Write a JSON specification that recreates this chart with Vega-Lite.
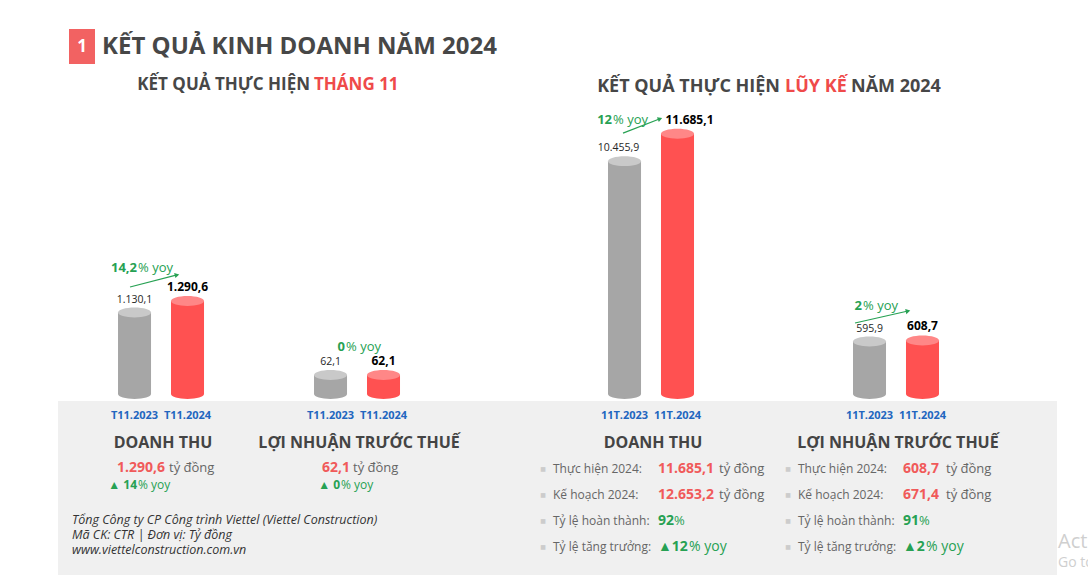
{
"$schema": "https://vega.github.io/schema/vega-lite/v6.json",
"background": "white",
"padding": {"left": 58, "top": 0, "right": 31, "bottom": 11},
"config": {"view": {"stroke": null}, "axis": {"disable": true}, "legend": {"disable": true}, "font": "Open Sans"},
"datasets": {
"header": [{"num": "1", "title": "KẾT QUẢ KINH DOANH NĂM 2024", "leftA": "KẾT QUẢ THỰC HIỆN", "leftB": "THÁNG 11", "rightA": "KẾT QUẢ THỰC HIỆN", "rightB": "LŨY KẾ", "rightC": "NĂM 2024"}],
"bars": [
{"group": "G1", "year": "2023", "label": "T11.2023", "value": 1130.1, "text": "1.130,1"},
{"group": "G1", "year": "2024", "label": "T11.2024", "value": 1290.6, "text": "1.290,6"},
{"group": "G2", "year": "2023", "label": "T11.2023", "value": 62.1, "text": "62,1"},
{"group": "G2", "year": "2024", "label": "T11.2024", "value": 62.1, "text": "62,1"},
{"group": "G3", "year": "2023", "label": "11T.2023", "value": 10455.9, "text": "10.455,9"},
{"group": "G3", "year": "2024", "label": "11T.2024", "value": 11685.1, "text": "11.685,1"},
{"group": "G4", "year": "2023", "label": "11T.2023", "value": 595.9, "text": "595,9"},
{"group": "G4", "year": "2024", "label": "11T.2024", "value": 608.7, "text": "608,7"}
],
"growth": [
{"group": "G1", "from": 1130.1, "to": 1290.6, "num": "14,2", "suffix": "% yoy"},
{"group": "G2", "from": 62.1, "to": 62.1, "num": "0", "suffix": "% yoy"},
{"group": "G3", "from": 10455.9, "to": 11685.1, "num": "12", "suffix": "% yoy"},
{"group": "G4", "from": 595.9, "to": 608.7, "num": "2", "suffix": "% yoy"}
],
"sections": [
{"group": "G1", "title": "DOANH THU"},
{"group": "G2", "title": "LỢI NHUẬN TRƯỚC THUẾ"},
{"group": "G3", "title": "DOANH THU"},
{"group": "G4", "title": "LỢI NHUẬN TRƯỚC THUẾ"}
],
"monthly": [
{"group": "G1", "value": "1.290,6", "unit": "tỷ đồng", "yoy": "▲ 14", "yoySuffix": "% yoy"},
{"group": "G2", "value": "62,1", "unit": "tỷ đồng", "yoy": "▲ 0", "yoySuffix": "% yoy"}
],
"cumulative": [
{"group": "G3", "item": "r1", "label": "Thực hiện 2024:", "value": "11.685,1", "suffix": "tỷ đồng", "kind": "amount"},
{"group": "G3", "item": "r2", "label": "Kế hoạch 2024:", "value": "12.653,2", "suffix": "tỷ đồng", "kind": "amount"},
{"group": "G3", "item": "r3", "label": "Tỷ lệ hoàn thành:", "value": "92", "suffix": "%", "kind": "rate"},
{"group": "G3", "item": "r4", "label": "Tỷ lệ tăng trưởng:", "value": "▲12", "suffix": "% yoy", "kind": "growth"},
{"group": "G4", "item": "r1", "label": "Thực hiện 2024:", "value": "608,7", "suffix": "tỷ đồng", "kind": "amount"},
{"group": "G4", "item": "r2", "label": "Kế hoạch 2024:", "value": "671,4", "suffix": "tỷ đồng", "kind": "amount"},
{"group": "G4", "item": "r3", "label": "Tỷ lệ hoàn thành:", "value": "91", "suffix": "%", "kind": "rate"},
{"group": "G4", "item": "r4", "label": "Tỷ lệ tăng trưởng:", "value": "▲2", "suffix": "% yoy", "kind": "growth"}
],
"notes": [{"footer": "Tổng Công ty CP Công trình Viettel (Viettel Construction)\nMã CK: CTR  |  Đơn vị: Tỷ đồng\nwww.viettelconstruction.com.vn", "wm1": "Activate Windows", "wm2": "Go to Settings to activate Windows."}]
},
"bounds": "flush",
"spacing": 0,
"vconcat": [
{"width": 999, "height": 100, "data": {"name": "header"}, "layer": [
{"mark": {"type": "point", "shape": "M-0.743,-1L0.743,-1L0.743,1L-0.743,1Z", "size": 1225, "filled": true, "opacity": 1, "strokeWidth": 0, "color": "#f26262", "xOffset": -79},
 "encoding": {"x": {"datum": "G1", "type": "nominal", "scale": {"type": "band", "domain": ["a1","G1","s1","s2","s3","G2","s4","s5","s6","s7","s8","G3","s9","s10","s11","s12","G4","z1","z2"], "paddingInner": 0, "paddingOuter": 0.694, "align": 0.434}}, "y": {"datum": "title", "type": "nominal", "scale": {"type": "point", "domain": ["title", "subtitle"], "padding": 0.799, "align": 0.756}}}},
{"mark": {"type": "text", "fontSize": 17, "fontWeight": "bold", "color": "#ffffff", "dx": -79, "baseline": "middle"},
 "encoding": {"x": {"datum": "G1", "type": "nominal", "scale": {"type": "band", "domain": ["a1","G1","s1","s2","s3","G2","s4","s5","s6","s7","s8","G3","s9","s10","s11","s12","G4","z1","z2"], "paddingInner": 0, "paddingOuter": 0.694, "align": 0.434}}, "y": {"datum": "title", "type": "nominal", "scale": {"type": "point", "domain": ["title", "subtitle"], "padding": 0.799, "align": 0.756}}, "text": {"field": "num", "type": "nominal"}}},
{"mark": {"type": "text", "fontSize": 24, "fontWeight": "bold", "color": "#474747", "align": "left", "dx": -59, "baseline": "middle"},
 "encoding": {"x": {"datum": "G1", "type": "nominal", "scale": {"type": "band", "domain": ["a1","G1","s1","s2","s3","G2","s4","s5","s6","s7","s8","G3","s9","s10","s11","s12","G4","z1","z2"], "paddingInner": 0, "paddingOuter": 0.694, "align": 0.434}}, "y": {"datum": "title", "type": "nominal", "scale": {"type": "point", "domain": ["title", "subtitle"], "padding": 0.799, "align": 0.756}}, "text": {"field": "title", "type": "nominal"}}},
{"mark": {"type": "text", "fontSize": 17, "fontWeight": "bold", "color": "#474747", "align": "right", "dx": -47, "baseline": "middle"},
 "encoding": {"x": {"datum": "G2", "type": "nominal", "scale": {"type": "band", "domain": ["a1","G1","s1","s2","s3","G2","s4","s5","s6","s7","s8","G3","s9","s10","s11","s12","G4","z1","z2"], "paddingInner": 0, "paddingOuter": 0.694, "align": 0.434}}, "y": {"datum": "subtitle", "type": "nominal", "scale": {"type": "point", "domain": ["title", "subtitle"], "padding": 0.799, "align": 0.756}}, "text": {"field": "leftA", "type": "nominal"}}},
{"mark": {"type": "text", "fontSize": 17, "fontWeight": "bold", "color": "#ef4a4a", "align": "left", "dx": -43, "baseline": "middle"},
 "encoding": {"x": {"datum": "G2", "type": "nominal", "scale": {"type": "band", "domain": ["a1","G1","s1","s2","s3","G2","s4","s5","s6","s7","s8","G3","s9","s10","s11","s12","G4","z1","z2"], "paddingInner": 0, "paddingOuter": 0.694, "align": 0.434}}, "y": {"datum": "subtitle", "type": "nominal", "scale": {"type": "point", "domain": ["title", "subtitle"], "padding": 0.799, "align": 0.756}}, "text": {"field": "leftB", "type": "nominal"}}},
{"mark": {"type": "text", "fontSize": 18, "fontWeight": "bold", "color": "#474747", "align": "right", "dx": -18, "dy": 2, "baseline": "middle"},
 "encoding": {"x": {"datum": "s11", "type": "nominal", "scale": {"type": "band", "domain": ["a1","G1","s1","s2","s3","G2","s4","s5","s6","s7","s8","G3","s9","s10","s11","s12","G4","z1","z2"], "paddingInner": 0, "paddingOuter": 0.694, "align": 0.434}}, "y": {"datum": "subtitle", "type": "nominal", "scale": {"type": "point", "domain": ["title", "subtitle"], "padding": 0.799, "align": 0.756}}, "text": {"field": "rightA", "type": "nominal"}}},
{"mark": {"type": "text", "fontSize": 18, "fontWeight": "bold", "color": "#ef4a4a", "align": "left", "dx": -13, "dy": 2, "baseline": "middle"},
 "encoding": {"x": {"datum": "s11", "type": "nominal", "scale": {"type": "band", "domain": ["a1","G1","s1","s2","s3","G2","s4","s5","s6","s7","s8","G3","s9","s10","s11","s12","G4","z1","z2"], "paddingInner": 0, "paddingOuter": 0.694, "align": 0.434}}, "y": {"datum": "subtitle", "type": "nominal", "scale": {"type": "point", "domain": ["title", "subtitle"], "padding": 0.799, "align": 0.756}}, "text": {"field": "rightB", "type": "nominal"}}},
{"mark": {"type": "text", "fontSize": 18, "fontWeight": "bold", "color": "#474747", "align": "left", "dx": -45, "dy": 2, "baseline": "middle"},
 "encoding": {"x": {"datum": "G4", "type": "nominal", "scale": {"type": "band", "domain": ["a1","G1","s1","s2","s3","G2","s4","s5","s6","s7","s8","G3","s9","s10","s11","s12","G4","z1","z2"], "paddingInner": 0, "paddingOuter": 0.694, "align": 0.434}}, "y": {"datum": "subtitle", "type": "nominal", "scale": {"type": "point", "domain": ["title", "subtitle"], "padding": 0.799, "align": 0.756}}, "text": {"field": "rightC", "type": "nominal"}}}
]},
{"width": 999, "height": 301, "resolve": {"scale": {"y": "independent"}}, "layer": [
{"data": {"name": "bars"}, "mark": {"type": "point", "shape": "M-1,0C-1,-0.166,-0.552,-0.3,0,-0.3C0.552,-0.3,1,-0.166,1,0C1,0.166,0.552,0.3,0,0.3C-0.552,0.3,-1,0.166,-1,0Z", "size": 1089, "filled": true, "opacity": 1, "strokeWidth": 0},
 "encoding": {"x": {"field": "group", "type": "nominal", "scale": {"type": "band", "domain": ["a1","G1","s1","s2","s3","G2","s4","s5","s6","s7","s8","G3","s9","s10","s11","s12","G4","z1","z2"], "paddingInner": 0, "paddingOuter": 0.694, "align": 0.434}}, "xOffset": {"field": "year", "type": "nominal", "scale": {"type": "band", "domain": ["2023", "2024"], "range": [-18.5, 67.5], "paddingInner": 0.377, "paddingOuter": 0}}, "y": {"datum": 0, "type": "quantitative", "scale": {"domain": [-0.0238, 1]}}, "color": {"field": "year", "type": "nominal", "scale": {"domain": ["2023", "2024"], "range": ["#a6a6a6", "#ff5151"]}}}},
{"layer": [
{"data": {"name": "bars"}, "transform": [{"filter": "datum.group === 'G1'"}], "mark": {"type": "bar"},
 "encoding": {"x": {"field": "group", "type": "nominal", "scale": {"type": "band", "domain": ["a1","G1","s1","s2","s3","G2","s4","s5","s6","s7","s8","G3","s9","s10","s11","s12","G4","z1","z2"], "paddingInner": 0, "paddingOuter": 0.694, "align": 0.434}}, "xOffset": {"field": "year", "type": "nominal", "scale": {"type": "band", "domain": ["2023", "2024"], "range": [-18.5, 67.5], "paddingInner": 0.377, "paddingOuter": 0}}, "y": {"field": "value", "type": "quantitative", "scale": {"domain": [-97.1, 4078]}}, "color": {"field": "year", "type": "nominal", "scale": {"domain": ["2023", "2024"], "range": ["#a6a6a6", "#ff5151"]}}}},
{"data": {"name": "bars"}, "transform": [{"filter": "datum.group === 'G1'"}], "mark": {"type": "point", "shape": "M-1,0C-1,-0.166,-0.552,-0.3,0,-0.3C0.552,-0.3,1,-0.166,1,0C1,0.166,0.552,0.3,0,0.3C-0.552,0.3,-1,0.166,-1,0Z", "size": 1089, "filled": true, "opacity": 1, "strokeWidth": 0},
 "encoding": {"x": {"field": "group", "type": "nominal", "scale": {"type": "band", "domain": ["a1","G1","s1","s2","s3","G2","s4","s5","s6","s7","s8","G3","s9","s10","s11","s12","G4","z1","z2"], "paddingInner": 0, "paddingOuter": 0.694, "align": 0.434}}, "xOffset": {"field": "year", "type": "nominal", "scale": {"type": "band", "domain": ["2023", "2024"], "range": [-18.5, 67.5], "paddingInner": 0.377, "paddingOuter": 0}}, "y": {"field": "value", "type": "quantitative", "scale": {"domain": [-97.1, 4078]}}, "fill": {"field": "year", "type": "nominal", "scale": {"domain": ["2023", "2024"], "range": ["#c9c9c9", "#ff8787"]}}}},
{"data": {"name": "bars"}, "transform": [{"filter": "datum.group === 'G1' && datum.year === '2023'"}], "mark": {"type": "text", "fontSize": 10.5, "color": "#262626", "dy": -10, "baseline": "alphabetic"},
 "encoding": {"x": {"field": "group", "type": "nominal", "scale": {"type": "band", "domain": ["a1","G1","s1","s2","s3","G2","s4","s5","s6","s7","s8","G3","s9","s10","s11","s12","G4","z1","z2"], "paddingInner": 0, "paddingOuter": 0.694, "align": 0.434}}, "xOffset": {"field": "year", "type": "nominal", "scale": {"type": "band", "domain": ["2023", "2024"], "range": [-18.5, 67.5], "paddingInner": 0.377, "paddingOuter": 0}}, "y": {"field": "value", "type": "quantitative", "scale": {"domain": [-97.1, 4078]}}, "text": {"field": "text", "type": "nominal"}}},
{"data": {"name": "bars"}, "transform": [{"filter": "datum.group === 'G1' && datum.year === '2024'"}], "mark": {"type": "text", "fontSize": 12, "fontWeight": "bold", "color": "#000000", "dy": -10, "baseline": "alphabetic"},
 "encoding": {"x": {"field": "group", "type": "nominal", "scale": {"type": "band", "domain": ["a1","G1","s1","s2","s3","G2","s4","s5","s6","s7","s8","G3","s9","s10","s11","s12","G4","z1","z2"], "paddingInner": 0, "paddingOuter": 0.694, "align": 0.434}}, "xOffset": {"field": "year", "type": "nominal", "scale": {"type": "band", "domain": ["2023", "2024"], "range": [-18.5, 67.5], "paddingInner": 0.377, "paddingOuter": 0}}, "y": {"field": "value", "type": "quantitative", "scale": {"domain": [-97.1, 4078]}}, "text": {"field": "text", "type": "nominal"}}},
{"data": {"name": "growth"}, "transform": [{"filter": "datum.group === 'G1'"}], "mark": {"type": "text", "align": "right", "baseline": "middle", "dx": -24, "dy": -33, "fontSize": 13, "fontWeight": "bold", "color": "#27a153"},
 "encoding": {"x": {"field": "group", "type": "nominal", "scale": {"type": "band", "domain": ["a1","G1","s1","s2","s3","G2","s4","s5","s6","s7","s8","G3","s9","s10","s11","s12","G4","z1","z2"], "paddingInner": 0, "paddingOuter": 0.694, "align": 0.434}}, "y": {"field": "to", "type": "quantitative", "scale": {"domain": [-97.1, 4078]}}, "text": {"field": "num", "type": "nominal"}}},
{"data": {"name": "growth"}, "transform": [{"filter": "datum.group === 'G1'"}], "mark": {"type": "text", "align": "left", "baseline": "middle", "dx": -23, "dy": -33, "fontSize": 13, "color": "#27a153"},
 "encoding": {"x": {"field": "group", "type": "nominal", "scale": {"type": "band", "domain": ["a1","G1","s1","s2","s3","G2","s4","s5","s6","s7","s8","G3","s9","s10","s11","s12","G4","z1","z2"], "paddingInner": 0, "paddingOuter": 0.694, "align": 0.434}}, "y": {"field": "to", "type": "quantitative", "scale": {"domain": [-97.1, 4078]}}, "text": {"field": "suffix", "type": "nominal"}}},
{"data": {"name": "growth"}, "transform": [{"filter": "datum.group === 'G1'"}], "mark": {"type": "rule", "color": "#27a153", "strokeWidth": 1.2, "xOffset": -31, "x2Offset": 16, "yOffset": -25.5, "y2Offset": -26},
 "encoding": {"x": {"field": "group", "type": "nominal", "scale": {"type": "band", "domain": ["a1","G1","s1","s2","s3","G2","s4","s5","s6","s7","s8","G3","s9","s10","s11","s12","G4","z1","z2"], "paddingInner": 0, "paddingOuter": 0.694, "align": 0.434}}, "x2": {"field": "group"}, "y": {"field": "from", "type": "quantitative", "scale": {"domain": [-97.1, 4078]}}, "y2": {"field": "to"}}},
{"data": {"name": "growth"}, "transform": [{"filter": "datum.group === 'G1'"}], "mark": {"type": "point", "shape": "triangle-right", "size": 28, "filled": true, "opacity": 1, "strokeWidth": 0, "color": "#27a153", "angle": -14, "xOffset": 16, "yOffset": -26},
 "encoding": {"x": {"field": "group", "type": "nominal", "scale": {"type": "band", "domain": ["a1","G1","s1","s2","s3","G2","s4","s5","s6","s7","s8","G3","s9","s10","s11","s12","G4","z1","z2"], "paddingInner": 0, "paddingOuter": 0.694, "align": 0.434}}, "y": {"field": "to", "type": "quantitative", "scale": {"domain": [-97.1, 4078]}}}}
]},
{"layer": [
{"data": {"name": "bars"}, "transform": [{"filter": "datum.group === 'G2'"}], "mark": {"type": "bar"},
 "encoding": {"x": {"field": "group", "type": "nominal", "scale": {"type": "band", "domain": ["a1","G1","s1","s2","s3","G2","s4","s5","s6","s7","s8","G3","s9","s10","s11","s12","G4","z1","z2"], "paddingInner": 0, "paddingOuter": 0.694, "align": 0.434}}, "xOffset": {"field": "year", "type": "nominal", "scale": {"type": "band", "domain": ["2023", "2024"], "range": [-18.5, 67.5], "paddingInner": 0.377, "paddingOuter": 0}}, "y": {"field": "value", "type": "quantitative", "scale": {"domain": [-22.9, 961]}}, "color": {"field": "year", "type": "nominal", "scale": {"domain": ["2023", "2024"], "range": ["#a6a6a6", "#ff5151"]}}}},
{"data": {"name": "bars"}, "transform": [{"filter": "datum.group === 'G2'"}], "mark": {"type": "point", "shape": "M-1,0C-1,-0.166,-0.552,-0.3,0,-0.3C0.552,-0.3,1,-0.166,1,0C1,0.166,0.552,0.3,0,0.3C-0.552,0.3,-1,0.166,-1,0Z", "size": 1089, "filled": true, "opacity": 1, "strokeWidth": 0},
 "encoding": {"x": {"field": "group", "type": "nominal", "scale": {"type": "band", "domain": ["a1","G1","s1","s2","s3","G2","s4","s5","s6","s7","s8","G3","s9","s10","s11","s12","G4","z1","z2"], "paddingInner": 0, "paddingOuter": 0.694, "align": 0.434}}, "xOffset": {"field": "year", "type": "nominal", "scale": {"type": "band", "domain": ["2023", "2024"], "range": [-18.5, 67.5], "paddingInner": 0.377, "paddingOuter": 0}}, "y": {"field": "value", "type": "quantitative", "scale": {"domain": [-22.9, 961]}}, "fill": {"field": "year", "type": "nominal", "scale": {"domain": ["2023", "2024"], "range": ["#c9c9c9", "#ff8787"]}}}},
{"data": {"name": "bars"}, "transform": [{"filter": "datum.group === 'G2' && datum.year === '2023'"}], "mark": {"type": "text", "fontSize": 10.5, "color": "#262626", "dy": -10, "baseline": "alphabetic"},
 "encoding": {"x": {"field": "group", "type": "nominal", "scale": {"type": "band", "domain": ["a1","G1","s1","s2","s3","G2","s4","s5","s6","s7","s8","G3","s9","s10","s11","s12","G4","z1","z2"], "paddingInner": 0, "paddingOuter": 0.694, "align": 0.434}}, "xOffset": {"field": "year", "type": "nominal", "scale": {"type": "band", "domain": ["2023", "2024"], "range": [-18.5, 67.5], "paddingInner": 0.377, "paddingOuter": 0}}, "y": {"field": "value", "type": "quantitative", "scale": {"domain": [-22.9, 961]}}, "text": {"field": "text", "type": "nominal"}}},
{"data": {"name": "bars"}, "transform": [{"filter": "datum.group === 'G2' && datum.year === '2024'"}], "mark": {"type": "text", "fontSize": 12, "fontWeight": "bold", "color": "#000000", "dy": -10, "baseline": "alphabetic"},
 "encoding": {"x": {"field": "group", "type": "nominal", "scale": {"type": "band", "domain": ["a1","G1","s1","s2","s3","G2","s4","s5","s6","s7","s8","G3","s9","s10","s11","s12","G4","z1","z2"], "paddingInner": 0, "paddingOuter": 0.694, "align": 0.434}}, "xOffset": {"field": "year", "type": "nominal", "scale": {"type": "band", "domain": ["2023", "2024"], "range": [-18.5, 67.5], "paddingInner": 0.377, "paddingOuter": 0}}, "y": {"field": "value", "type": "quantitative", "scale": {"domain": [-22.9, 961]}}, "text": {"field": "text", "type": "nominal"}}},
{"data": {"name": "growth"}, "transform": [{"filter": "datum.group === 'G2'"}], "mark": {"type": "text", "align": "right", "baseline": "middle", "dx": -12, "dy": -28, "fontSize": 13, "fontWeight": "bold", "color": "#27a153"},
 "encoding": {"x": {"field": "group", "type": "nominal", "scale": {"type": "band", "domain": ["a1","G1","s1","s2","s3","G2","s4","s5","s6","s7","s8","G3","s9","s10","s11","s12","G4","z1","z2"], "paddingInner": 0, "paddingOuter": 0.694, "align": 0.434}}, "y": {"field": "to", "type": "quantitative", "scale": {"domain": [-22.9, 961]}}, "text": {"field": "num", "type": "nominal"}}},
{"data": {"name": "growth"}, "transform": [{"filter": "datum.group === 'G2'"}], "mark": {"type": "text", "align": "left", "baseline": "middle", "dx": -11, "dy": -28, "fontSize": 13, "color": "#27a153"},
 "encoding": {"x": {"field": "group", "type": "nominal", "scale": {"type": "band", "domain": ["a1","G1","s1","s2","s3","G2","s4","s5","s6","s7","s8","G3","s9","s10","s11","s12","G4","z1","z2"], "paddingInner": 0, "paddingOuter": 0.694, "align": 0.434}}, "y": {"field": "to", "type": "quantitative", "scale": {"domain": [-22.9, 961]}}, "text": {"field": "suffix", "type": "nominal"}}}
]},
{"layer": [
{"data": {"name": "bars"}, "transform": [{"filter": "datum.group === 'G3'"}], "mark": {"type": "bar"},
 "encoding": {"x": {"field": "group", "type": "nominal", "scale": {"type": "band", "domain": ["a1","G1","s1","s2","s3","G2","s4","s5","s6","s7","s8","G3","s9","s10","s11","s12","G4","z1","z2"], "paddingInner": 0, "paddingOuter": 0.694, "align": 0.434}}, "xOffset": {"field": "year", "type": "nominal", "scale": {"type": "band", "domain": ["2023", "2024"], "range": [-18.5, 67.5], "paddingInner": 0.377, "paddingOuter": 0}}, "y": {"field": "value", "type": "quantitative", "scale": {"domain": [-314.3, 13202]}}, "color": {"field": "year", "type": "nominal", "scale": {"domain": ["2023", "2024"], "range": ["#a6a6a6", "#ff5151"]}}}},
{"data": {"name": "bars"}, "transform": [{"filter": "datum.group === 'G3'"}], "mark": {"type": "point", "shape": "M-1,0C-1,-0.166,-0.552,-0.3,0,-0.3C0.552,-0.3,1,-0.166,1,0C1,0.166,0.552,0.3,0,0.3C-0.552,0.3,-1,0.166,-1,0Z", "size": 1089, "filled": true, "opacity": 1, "strokeWidth": 0},
 "encoding": {"x": {"field": "group", "type": "nominal", "scale": {"type": "band", "domain": ["a1","G1","s1","s2","s3","G2","s4","s5","s6","s7","s8","G3","s9","s10","s11","s12","G4","z1","z2"], "paddingInner": 0, "paddingOuter": 0.694, "align": 0.434}}, "xOffset": {"field": "year", "type": "nominal", "scale": {"type": "band", "domain": ["2023", "2024"], "range": [-18.5, 67.5], "paddingInner": 0.377, "paddingOuter": 0}}, "y": {"field": "value", "type": "quantitative", "scale": {"domain": [-314.3, 13202]}}, "fill": {"field": "year", "type": "nominal", "scale": {"domain": ["2023", "2024"], "range": ["#c9c9c9", "#ff8787"]}}}},
{"data": {"name": "bars"}, "transform": [{"filter": "datum.group === 'G3' && datum.year === '2023'"}], "mark": {"type": "text", "fontSize": 10.5, "color": "#262626", "dx": -6, "dy": -10, "baseline": "alphabetic"},
 "encoding": {"x": {"field": "group", "type": "nominal", "scale": {"type": "band", "domain": ["a1","G1","s1","s2","s3","G2","s4","s5","s6","s7","s8","G3","s9","s10","s11","s12","G4","z1","z2"], "paddingInner": 0, "paddingOuter": 0.694, "align": 0.434}}, "xOffset": {"field": "year", "type": "nominal", "scale": {"type": "band", "domain": ["2023", "2024"], "range": [-18.5, 67.5], "paddingInner": 0.377, "paddingOuter": 0}}, "y": {"field": "value", "type": "quantitative", "scale": {"domain": [-314.3, 13202]}}, "text": {"field": "text", "type": "nominal"}}},
{"data": {"name": "bars"}, "transform": [{"filter": "datum.group === 'G3' && datum.year === '2024'"}], "mark": {"type": "text", "fontSize": 12, "fontWeight": "bold", "color": "#000000", "dx": 12, "dy": -10, "baseline": "alphabetic"},
 "encoding": {"x": {"field": "group", "type": "nominal", "scale": {"type": "band", "domain": ["a1","G1","s1","s2","s3","G2","s4","s5","s6","s7","s8","G3","s9","s10","s11","s12","G4","z1","z2"], "paddingInner": 0, "paddingOuter": 0.694, "align": 0.434}}, "xOffset": {"field": "year", "type": "nominal", "scale": {"type": "band", "domain": ["2023", "2024"], "range": [-18.5, 67.5], "paddingInner": 0.377, "paddingOuter": 0}}, "y": {"field": "value", "type": "quantitative", "scale": {"domain": [-314.3, 13202]}}, "text": {"field": "text", "type": "nominal"}}},
{"data": {"name": "growth"}, "transform": [{"filter": "datum.group === 'G3'"}], "mark": {"type": "text", "align": "right", "baseline": "middle", "dx": -39, "dy": -14, "fontSize": 13, "fontWeight": "bold", "color": "#27a153"},
 "encoding": {"x": {"field": "group", "type": "nominal", "scale": {"type": "band", "domain": ["a1","G1","s1","s2","s3","G2","s4","s5","s6","s7","s8","G3","s9","s10","s11","s12","G4","z1","z2"], "paddingInner": 0, "paddingOuter": 0.694, "align": 0.434}}, "y": {"field": "to", "type": "quantitative", "scale": {"domain": [-314.3, 13202]}}, "text": {"field": "num", "type": "nominal"}}},
{"data": {"name": "growth"}, "transform": [{"filter": "datum.group === 'G3'"}], "mark": {"type": "text", "align": "left", "baseline": "middle", "dx": -38, "dy": -14, "fontSize": 13, "color": "#27a153"},
 "encoding": {"x": {"field": "group", "type": "nominal", "scale": {"type": "band", "domain": ["a1","G1","s1","s2","s3","G2","s4","s5","s6","s7","s8","G3","s9","s10","s11","s12","G4","z1","z2"], "paddingInner": 0, "paddingOuter": 0.694, "align": 0.434}}, "y": {"field": "to", "type": "quantitative", "scale": {"domain": [-314.3, 13202]}}, "text": {"field": "suffix", "type": "nominal"}}},
{"data": {"name": "growth"}, "transform": [{"filter": "datum.group === 'G3'"}], "mark": {"type": "rule", "color": "#27a153", "strokeWidth": 1.2, "xOffset": -28, "x2Offset": 9, "yOffset": -28, "y2Offset": -15},
 "encoding": {"x": {"field": "group", "type": "nominal", "scale": {"type": "band", "domain": ["a1","G1","s1","s2","s3","G2","s4","s5","s6","s7","s8","G3","s9","s10","s11","s12","G4","z1","z2"], "paddingInner": 0, "paddingOuter": 0.694, "align": 0.434}}, "x2": {"field": "group"}, "y": {"field": "from", "type": "quantitative", "scale": {"domain": [-314.3, 13202]}}, "y2": {"field": "to"}}},
{"data": {"name": "growth"}, "transform": [{"filter": "datum.group === 'G3'"}], "mark": {"type": "point", "shape": "triangle-right", "size": 28, "filled": true, "opacity": 1, "strokeWidth": 0, "color": "#27a153", "angle": -21, "xOffset": 9, "yOffset": -15},
 "encoding": {"x": {"field": "group", "type": "nominal", "scale": {"type": "band", "domain": ["a1","G1","s1","s2","s3","G2","s4","s5","s6","s7","s8","G3","s9","s10","s11","s12","G4","z1","z2"], "paddingInner": 0, "paddingOuter": 0.694, "align": 0.434}}, "y": {"field": "to", "type": "quantitative", "scale": {"domain": [-314.3, 13202]}}}}
]},
{"layer": [
{"data": {"name": "bars"}, "transform": [{"filter": "datum.group === 'G4'"}], "mark": {"type": "bar"},
 "encoding": {"x": {"field": "group", "type": "nominal", "scale": {"type": "band", "domain": ["a1","G1","s1","s2","s3","G2","s4","s5","s6","s7","s8","G3","s9","s10","s11","s12","G4","z1","z2"], "paddingInner": 0, "paddingOuter": 0.694, "align": 0.434}}, "xOffset": {"field": "year", "type": "nominal", "scale": {"type": "band", "domain": ["2023", "2024"], "range": [-18.5, 67.5], "paddingInner": 0.377, "paddingOuter": 0}}, "y": {"field": "value", "type": "quantitative", "scale": {"domain": [-79.5, 3341]}}, "color": {"field": "year", "type": "nominal", "scale": {"domain": ["2023", "2024"], "range": ["#a6a6a6", "#ff5151"]}}}},
{"data": {"name": "bars"}, "transform": [{"filter": "datum.group === 'G4'"}], "mark": {"type": "point", "shape": "M-1,0C-1,-0.166,-0.552,-0.3,0,-0.3C0.552,-0.3,1,-0.166,1,0C1,0.166,0.552,0.3,0,0.3C-0.552,0.3,-1,0.166,-1,0Z", "size": 1089, "filled": true, "opacity": 1, "strokeWidth": 0},
 "encoding": {"x": {"field": "group", "type": "nominal", "scale": {"type": "band", "domain": ["a1","G1","s1","s2","s3","G2","s4","s5","s6","s7","s8","G3","s9","s10","s11","s12","G4","z1","z2"], "paddingInner": 0, "paddingOuter": 0.694, "align": 0.434}}, "xOffset": {"field": "year", "type": "nominal", "scale": {"type": "band", "domain": ["2023", "2024"], "range": [-18.5, 67.5], "paddingInner": 0.377, "paddingOuter": 0}}, "y": {"field": "value", "type": "quantitative", "scale": {"domain": [-79.5, 3341]}}, "fill": {"field": "year", "type": "nominal", "scale": {"domain": ["2023", "2024"], "range": ["#c9c9c9", "#ff8787"]}}}},
{"data": {"name": "bars"}, "transform": [{"filter": "datum.group === 'G4' && datum.year === '2023'"}], "mark": {"type": "text", "fontSize": 10.5, "color": "#262626", "dy": -10, "baseline": "alphabetic"},
 "encoding": {"x": {"field": "group", "type": "nominal", "scale": {"type": "band", "domain": ["a1","G1","s1","s2","s3","G2","s4","s5","s6","s7","s8","G3","s9","s10","s11","s12","G4","z1","z2"], "paddingInner": 0, "paddingOuter": 0.694, "align": 0.434}}, "xOffset": {"field": "year", "type": "nominal", "scale": {"type": "band", "domain": ["2023", "2024"], "range": [-18.5, 67.5], "paddingInner": 0.377, "paddingOuter": 0}}, "y": {"field": "value", "type": "quantitative", "scale": {"domain": [-79.5, 3341]}}, "text": {"field": "text", "type": "nominal"}}},
{"data": {"name": "bars"}, "transform": [{"filter": "datum.group === 'G4' && datum.year === '2024'"}], "mark": {"type": "text", "fontSize": 12, "fontWeight": "bold", "color": "#000000", "dy": -10, "baseline": "alphabetic"},
 "encoding": {"x": {"field": "group", "type": "nominal", "scale": {"type": "band", "domain": ["a1","G1","s1","s2","s3","G2","s4","s5","s6","s7","s8","G3","s9","s10","s11","s12","G4","z1","z2"], "paddingInner": 0, "paddingOuter": 0.694, "align": 0.434}}, "xOffset": {"field": "year", "type": "nominal", "scale": {"type": "band", "domain": ["2023", "2024"], "range": [-18.5, 67.5], "paddingInner": 0.377, "paddingOuter": 0}}, "y": {"field": "value", "type": "quantitative", "scale": {"domain": [-79.5, 3341]}}, "text": {"field": "text", "type": "nominal"}}},
{"data": {"name": "growth"}, "transform": [{"filter": "datum.group === 'G4'"}], "mark": {"type": "text", "align": "right", "baseline": "middle", "dx": -34, "dy": -34, "fontSize": 13, "fontWeight": "bold", "color": "#27a153"},
 "encoding": {"x": {"field": "group", "type": "nominal", "scale": {"type": "band", "domain": ["a1","G1","s1","s2","s3","G2","s4","s5","s6","s7","s8","G3","s9","s10","s11","s12","G4","z1","z2"], "paddingInner": 0, "paddingOuter": 0.694, "align": 0.434}}, "y": {"field": "to", "type": "quantitative", "scale": {"domain": [-79.5, 3341]}}, "text": {"field": "num", "type": "nominal"}}},
{"data": {"name": "growth"}, "transform": [{"filter": "datum.group === 'G4'"}], "mark": {"type": "text", "align": "left", "baseline": "middle", "dx": -33, "dy": -34, "fontSize": 13, "color": "#27a153"},
 "encoding": {"x": {"field": "group", "type": "nominal", "scale": {"type": "band", "domain": ["a1","G1","s1","s2","s3","G2","s4","s5","s6","s7","s8","G3","s9","s10","s11","s12","G4","z1","z2"], "paddingInner": 0, "paddingOuter": 0.694, "align": 0.434}}, "y": {"field": "to", "type": "quantitative", "scale": {"domain": [-79.5, 3341]}}, "text": {"field": "suffix", "type": "nominal"}}},
{"data": {"name": "growth"}, "transform": [{"filter": "datum.group === 'G4'"}], "mark": {"type": "rule", "color": "#27a153", "strokeWidth": 1.2, "xOffset": -41, "x2Offset": 12, "yOffset": -18.6, "y2Offset": -29.4},
 "encoding": {"x": {"field": "group", "type": "nominal", "scale": {"type": "band", "domain": ["a1","G1","s1","s2","s3","G2","s4","s5","s6","s7","s8","G3","s9","s10","s11","s12","G4","z1","z2"], "paddingInner": 0, "paddingOuter": 0.694, "align": 0.434}}, "x2": {"field": "group"}, "y": {"field": "from", "type": "quantitative", "scale": {"domain": [-79.5, 3341]}}, "y2": {"field": "to"}}},
{"data": {"name": "growth"}, "transform": [{"filter": "datum.group === 'G4'"}], "mark": {"type": "point", "shape": "triangle-right", "size": 28, "filled": true, "opacity": 1, "strokeWidth": 0, "color": "#27a153", "angle": -13, "xOffset": 12, "yOffset": -29.4},
 "encoding": {"x": {"field": "group", "type": "nominal", "scale": {"type": "band", "domain": ["a1","G1","s1","s2","s3","G2","s4","s5","s6","s7","s8","G3","s9","s10","s11","s12","G4","z1","z2"], "paddingInner": 0, "paddingOuter": 0.694, "align": 0.434}}, "y": {"field": "to", "type": "quantitative", "scale": {"domain": [-79.5, 3341]}}}}
]}
]},
{"width": 999, "height": 174, "view": {"fill": "#f0f0f0", "stroke": null}, "layer": [
{"data": {"name": "bars"}, "mark": {"type": "text", "fontSize": 11, "fontWeight": "bold", "color": "#2266bf", "baseline": "middle"},
 "encoding": {"x": {"field": "group", "type": "nominal", "scale": {"type": "band", "domain": ["a1","G1","s1","s2","s3","G2","s4","s5","s6","s7","s8","G3","s9","s10","s11","s12","G4","z1","z2"], "paddingInner": 0, "paddingOuter": 0.694, "align": 0.434}}, "xOffset": {"field": "year", "type": "nominal", "scale": {"type": "band", "domain": ["2023", "2024"], "range": [-18.5, 67.5], "paddingInner": 0.377, "paddingOuter": 0}}, "y": {"datum": "axis", "type": "nominal", "scale": {"type": "point", "domain": ["axis", "title", "r1", "r2", "r3", "r4"], "padding": 0.82, "align": 0.36}}, "text": {"field": "label", "type": "nominal"}}},
{"data": {"name": "sections"}, "mark": {"type": "text", "fontSize": 16, "fontWeight": "bold", "color": "#444444", "baseline": "middle", "dx": 2},
 "encoding": {"x": {"field": "group", "type": "nominal", "scale": {"type": "band", "domain": ["a1","G1","s1","s2","s3","G2","s4","s5","s6","s7","s8","G3","s9","s10","s11","s12","G4","z1","z2"], "paddingInner": 0, "paddingOuter": 0.694, "align": 0.434}}, "y": {"datum": "title", "type": "nominal", "scale": {"type": "point", "domain": ["axis", "title", "r1", "r2", "r3", "r4"], "padding": 0.82, "align": 0.36}}, "text": {"field": "title", "type": "nominal"}}},
{"data": {"name": "monthly"}, "transform": [{"filter": "datum.group === 'G1'"}], "mark": {"type": "text", "align": "right", "baseline": "middle", "dx": 4, "dy": -1, "fontSize": 14, "fontWeight": "bold", "color": "#f05a5a"},
 "encoding": {"x": {"field": "group", "type": "nominal", "scale": {"type": "band", "domain": ["a1","G1","s1","s2","s3","G2","s4","s5","s6","s7","s8","G3","s9","s10","s11","s12","G4","z1","z2"], "paddingInner": 0, "paddingOuter": 0.694, "align": 0.434}}, "y": {"datum": "r1", "type": "nominal", "scale": {"type": "point", "domain": ["axis", "title", "r1", "r2", "r3", "r4"], "padding": 0.82, "align": 0.36}}, "text": {"field": "value", "type": "nominal"}}},
{"data": {"name": "monthly"}, "transform": [{"filter": "datum.group === 'G1'"}], "mark": {"type": "text", "align": "left", "baseline": "middle", "dx": 8, "dy": -1, "fontSize": 13, "color": "#666666"},
 "encoding": {"x": {"field": "group", "type": "nominal", "scale": {"type": "band", "domain": ["a1","G1","s1","s2","s3","G2","s4","s5","s6","s7","s8","G3","s9","s10","s11","s12","G4","z1","z2"], "paddingInner": 0, "paddingOuter": 0.694, "align": 0.434}}, "y": {"datum": "r1", "type": "nominal", "scale": {"type": "point", "domain": ["axis", "title", "r1", "r2", "r3", "r4"], "padding": 0.82, "align": 0.36}}, "text": {"field": "unit", "type": "nominal"}}},
{"data": {"name": "monthly"}, "transform": [{"filter": "datum.group === 'G1'"}], "mark": {"type": "text", "align": "right", "baseline": "middle", "dx": -24, "dy": 16, "fontSize": 12, "fontWeight": "bold", "color": "#27a153"},
 "encoding": {"x": {"field": "group", "type": "nominal", "scale": {"type": "band", "domain": ["a1","G1","s1","s2","s3","G2","s4","s5","s6","s7","s8","G3","s9","s10","s11","s12","G4","z1","z2"], "paddingInner": 0, "paddingOuter": 0.694, "align": 0.434}}, "y": {"datum": "r1", "type": "nominal", "scale": {"type": "point", "domain": ["axis", "title", "r1", "r2", "r3", "r4"], "padding": 0.82, "align": 0.36}}, "text": {"field": "yoy", "type": "nominal"}}},
{"data": {"name": "monthly"}, "transform": [{"filter": "datum.group === 'G1'"}], "mark": {"type": "text", "align": "left", "baseline": "middle", "dx": -23, "dy": 16, "fontSize": 12, "color": "#27a153"},
 "encoding": {"x": {"field": "group", "type": "nominal", "scale": {"type": "band", "domain": ["a1","G1","s1","s2","s3","G2","s4","s5","s6","s7","s8","G3","s9","s10","s11","s12","G4","z1","z2"], "paddingInner": 0, "paddingOuter": 0.694, "align": 0.434}}, "y": {"datum": "r1", "type": "nominal", "scale": {"type": "point", "domain": ["axis", "title", "r1", "r2", "r3", "r4"], "padding": 0.82, "align": 0.36}}, "text": {"field": "yoySuffix", "type": "nominal"}}},
{"data": {"name": "monthly"}, "transform": [{"filter": "datum.group === 'G2'"}], "mark": {"type": "text", "align": "right", "baseline": "middle", "dx": -7, "dy": -1, "fontSize": 14, "fontWeight": "bold", "color": "#f05a5a"},
 "encoding": {"x": {"field": "group", "type": "nominal", "scale": {"type": "band", "domain": ["a1","G1","s1","s2","s3","G2","s4","s5","s6","s7","s8","G3","s9","s10","s11","s12","G4","z1","z2"], "paddingInner": 0, "paddingOuter": 0.694, "align": 0.434}}, "y": {"datum": "r1", "type": "nominal", "scale": {"type": "point", "domain": ["axis", "title", "r1", "r2", "r3", "r4"], "padding": 0.82, "align": 0.36}}, "text": {"field": "value", "type": "nominal"}}},
{"data": {"name": "monthly"}, "transform": [{"filter": "datum.group === 'G2'"}], "mark": {"type": "text", "align": "left", "baseline": "middle", "dx": -4, "dy": -1, "fontSize": 13, "color": "#666666"},
 "encoding": {"x": {"field": "group", "type": "nominal", "scale": {"type": "band", "domain": ["a1","G1","s1","s2","s3","G2","s4","s5","s6","s7","s8","G3","s9","s10","s11","s12","G4","z1","z2"], "paddingInner": 0, "paddingOuter": 0.694, "align": 0.434}}, "y": {"datum": "r1", "type": "nominal", "scale": {"type": "point", "domain": ["axis", "title", "r1", "r2", "r3", "r4"], "padding": 0.82, "align": 0.36}}, "text": {"field": "unit", "type": "nominal"}}},
{"data": {"name": "monthly"}, "transform": [{"filter": "datum.group === 'G2'"}], "mark": {"type": "text", "align": "right", "baseline": "middle", "dx": -17, "dy": 16, "fontSize": 12, "fontWeight": "bold", "color": "#27a153"},
 "encoding": {"x": {"field": "group", "type": "nominal", "scale": {"type": "band", "domain": ["a1","G1","s1","s2","s3","G2","s4","s5","s6","s7","s8","G3","s9","s10","s11","s12","G4","z1","z2"], "paddingInner": 0, "paddingOuter": 0.694, "align": 0.434}}, "y": {"datum": "r1", "type": "nominal", "scale": {"type": "point", "domain": ["axis", "title", "r1", "r2", "r3", "r4"], "padding": 0.82, "align": 0.36}}, "text": {"field": "yoy", "type": "nominal"}}},
{"data": {"name": "monthly"}, "transform": [{"filter": "datum.group === 'G2'"}], "mark": {"type": "text", "align": "left", "baseline": "middle", "dx": -16, "dy": 16, "fontSize": 12, "color": "#27a153"},
 "encoding": {"x": {"field": "group", "type": "nominal", "scale": {"type": "band", "domain": ["a1","G1","s1","s2","s3","G2","s4","s5","s6","s7","s8","G3","s9","s10","s11","s12","G4","z1","z2"], "paddingInner": 0, "paddingOuter": 0.694, "align": 0.434}}, "y": {"datum": "r1", "type": "nominal", "scale": {"type": "point", "domain": ["axis", "title", "r1", "r2", "r3", "r4"], "padding": 0.82, "align": 0.36}}, "text": {"field": "yoySuffix", "type": "nominal"}}},
{"data": {"name": "cumulative"}, "mark": {"type": "text", "baseline": "middle", "dx": -108, "fontSize": 6, "font": "DejaVu Sans", "color": "#cccccc"},
 "encoding": {"x": {"field": "group", "type": "nominal", "scale": {"type": "band", "domain": ["a1","G1","s1","s2","s3","G2","s4","s5","s6","s7","s8","G3","s9","s10","s11","s12","G4","z1","z2"], "paddingInner": 0, "paddingOuter": 0.694, "align": 0.434}}, "y": {"field": "item", "type": "nominal", "scale": {"type": "point", "domain": ["axis", "title", "r1", "r2", "r3", "r4"], "padding": 0.82, "align": 0.36}}, "text": {"value": "■"}}},
{"data": {"name": "cumulative"}, "mark": {"type": "text", "align": "left", "baseline": "middle", "dx": -98, "fontSize": 12, "color": "#666666"},
 "encoding": {"x": {"field": "group", "type": "nominal", "scale": {"type": "band", "domain": ["a1","G1","s1","s2","s3","G2","s4","s5","s6","s7","s8","G3","s9","s10","s11","s12","G4","z1","z2"], "paddingInner": 0, "paddingOuter": 0.694, "align": 0.434}}, "y": {"field": "item", "type": "nominal", "scale": {"type": "point", "domain": ["axis", "title", "r1", "r2", "r3", "r4"], "padding": 0.82, "align": 0.36}}, "text": {"field": "label", "type": "nominal"}}},
{"data": {"name": "cumulative"}, "transform": [{"filter": "datum.kind === 'amount'"}], "mark": {"type": "text", "align": "left", "baseline": "middle", "dx": 7, "fontSize": 14, "fontWeight": "bold", "color": "#f05a5a"},
 "encoding": {"x": {"field": "group", "type": "nominal", "scale": {"type": "band", "domain": ["a1","G1","s1","s2","s3","G2","s4","s5","s6","s7","s8","G3","s9","s10","s11","s12","G4","z1","z2"], "paddingInner": 0, "paddingOuter": 0.694, "align": 0.434}}, "y": {"field": "item", "type": "nominal", "scale": {"type": "point", "domain": ["axis", "title", "r1", "r2", "r3", "r4"], "padding": 0.82, "align": 0.36}}, "text": {"field": "value", "type": "nominal"}}},
{"data": {"name": "cumulative"}, "transform": [{"filter": "datum.kind !== 'amount'"}], "mark": {"type": "text", "align": "left", "baseline": "middle", "dx": 7, "fontSize": 14, "fontWeight": "bold", "color": "#27a153"},
 "encoding": {"x": {"field": "group", "type": "nominal", "scale": {"type": "band", "domain": ["a1","G1","s1","s2","s3","G2","s4","s5","s6","s7","s8","G3","s9","s10","s11","s12","G4","z1","z2"], "paddingInner": 0, "paddingOuter": 0.694, "align": 0.434}}, "y": {"field": "item", "type": "nominal", "scale": {"type": "point", "domain": ["axis", "title", "r1", "r2", "r3", "r4"], "padding": 0.82, "align": 0.36}}, "text": {"field": "value", "type": "nominal"}}},
{"data": {"name": "cumulative"}, "transform": [{"filter": "datum.group === 'G3' && datum.kind === 'amount'"}], "mark": {"type": "text", "align": "left", "baseline": "middle", "dx": 68, "fontSize": 13, "color": "#666666"},
 "encoding": {"x": {"field": "group", "type": "nominal", "scale": {"type": "band", "domain": ["a1","G1","s1","s2","s3","G2","s4","s5","s6","s7","s8","G3","s9","s10","s11","s12","G4","z1","z2"], "paddingInner": 0, "paddingOuter": 0.694, "align": 0.434}}, "y": {"field": "item", "type": "nominal", "scale": {"type": "point", "domain": ["axis", "title", "r1", "r2", "r3", "r4"], "padding": 0.82, "align": 0.36}}, "text": {"field": "suffix", "type": "nominal"}}},
{"data": {"name": "cumulative"}, "transform": [{"filter": "datum.group === 'G3' && datum.kind === 'rate'"}], "mark": {"type": "text", "align": "left", "baseline": "middle", "dx": 23, "fontSize": 13, "color": "#27a153"},
 "encoding": {"x": {"field": "group", "type": "nominal", "scale": {"type": "band", "domain": ["a1","G1","s1","s2","s3","G2","s4","s5","s6","s7","s8","G3","s9","s10","s11","s12","G4","z1","z2"], "paddingInner": 0, "paddingOuter": 0.694, "align": 0.434}}, "y": {"field": "item", "type": "nominal", "scale": {"type": "point", "domain": ["axis", "title", "r1", "r2", "r3", "r4"], "padding": 0.82, "align": 0.36}}, "text": {"field": "suffix", "type": "nominal"}}},
{"data": {"name": "cumulative"}, "transform": [{"filter": "datum.group === 'G3' && datum.kind === 'growth'"}], "mark": {"type": "text", "align": "left", "baseline": "middle", "dx": 38, "fontSize": 14, "color": "#27a153"},
 "encoding": {"x": {"field": "group", "type": "nominal", "scale": {"type": "band", "domain": ["a1","G1","s1","s2","s3","G2","s4","s5","s6","s7","s8","G3","s9","s10","s11","s12","G4","z1","z2"], "paddingInner": 0, "paddingOuter": 0.694, "align": 0.434}}, "y": {"field": "item", "type": "nominal", "scale": {"type": "point", "domain": ["axis", "title", "r1", "r2", "r3", "r4"], "padding": 0.82, "align": 0.36}}, "text": {"field": "suffix", "type": "nominal"}}},
{"data": {"name": "cumulative"}, "transform": [{"filter": "datum.group === 'G4' && datum.kind === 'amount'"}], "mark": {"type": "text", "align": "left", "baseline": "middle", "dx": 50, "fontSize": 13, "color": "#666666"},
 "encoding": {"x": {"field": "group", "type": "nominal", "scale": {"type": "band", "domain": ["a1","G1","s1","s2","s3","G2","s4","s5","s6","s7","s8","G3","s9","s10","s11","s12","G4","z1","z2"], "paddingInner": 0, "paddingOuter": 0.694, "align": 0.434}}, "y": {"field": "item", "type": "nominal", "scale": {"type": "point", "domain": ["axis", "title", "r1", "r2", "r3", "r4"], "padding": 0.82, "align": 0.36}}, "text": {"field": "suffix", "type": "nominal"}}},
{"data": {"name": "cumulative"}, "transform": [{"filter": "datum.group === 'G4' && datum.kind === 'rate'"}], "mark": {"type": "text", "align": "left", "baseline": "middle", "dx": 23, "fontSize": 13, "color": "#27a153"},
 "encoding": {"x": {"field": "group", "type": "nominal", "scale": {"type": "band", "domain": ["a1","G1","s1","s2","s3","G2","s4","s5","s6","s7","s8","G3","s9","s10","s11","s12","G4","z1","z2"], "paddingInner": 0, "paddingOuter": 0.694, "align": 0.434}}, "y": {"field": "item", "type": "nominal", "scale": {"type": "point", "domain": ["axis", "title", "r1", "r2", "r3", "r4"], "padding": 0.82, "align": 0.36}}, "text": {"field": "suffix", "type": "nominal"}}},
{"data": {"name": "cumulative"}, "transform": [{"filter": "datum.group === 'G4' && datum.kind === 'growth'"}], "mark": {"type": "text", "align": "left", "baseline": "middle", "dx": 30, "fontSize": 14, "color": "#27a153"},
 "encoding": {"x": {"field": "group", "type": "nominal", "scale": {"type": "band", "domain": ["a1","G1","s1","s2","s3","G2","s4","s5","s6","s7","s8","G3","s9","s10","s11","s12","G4","z1","z2"], "paddingInner": 0, "paddingOuter": 0.694, "align": 0.434}}, "y": {"field": "item", "type": "nominal", "scale": {"type": "point", "domain": ["axis", "title", "r1", "r2", "r3", "r4"], "padding": 0.82, "align": 0.36}}, "text": {"field": "suffix", "type": "nominal"}}},
{"data": {"name": "notes"}, "mark": {"type": "text", "align": "left", "baseline": "alphabetic", "dx": -89, "dy": 3, "fontSize": 12.5, "fontStyle": "italic", "color": "#333333", "lineBreak": "\n", "lineHeight": 15},
 "encoding": {"x": {"datum": "G1", "type": "nominal", "scale": {"type": "band", "domain": ["a1","G1","s1","s2","s3","G2","s4","s5","s6","s7","s8","G3","s9","s10","s11","s12","G4","z1","z2"], "paddingInner": 0, "paddingOuter": 0.694, "align": 0.434}}, "y": {"datum": "r3", "type": "nominal", "scale": {"type": "point", "domain": ["axis", "title", "r1", "r2", "r3", "r4"], "padding": 0.82, "align": 0.36}}, "text": {"field": "footer", "type": "nominal"}}},
{"data": {"name": "notes"}, "mark": {"type": "text", "align": "left", "baseline": "middle", "dx": 162, "dy": -5, "fontSize": 20, "color": "#cfcfcf"},
 "encoding": {"x": {"datum": "G4", "type": "nominal", "scale": {"type": "band", "domain": ["a1","G1","s1","s2","s3","G2","s4","s5","s6","s7","s8","G3","s9","s10","s11","s12","G4","z1","z2"], "paddingInner": 0, "paddingOuter": 0.694, "align": 0.434}}, "y": {"datum": "r4", "type": "nominal", "scale": {"type": "point", "domain": ["axis", "title", "r1", "r2", "r3", "r4"], "padding": 0.82, "align": 0.36}}, "text": {"field": "wm1", "type": "nominal"}}},
{"data": {"name": "notes"}, "mark": {"type": "text", "align": "left", "baseline": "middle", "dx": 162, "dy": 16, "fontSize": 14, "color": "#cfcfcf"},
 "encoding": {"x": {"datum": "G4", "type": "nominal", "scale": {"type": "band", "domain": ["a1","G1","s1","s2","s3","G2","s4","s5","s6","s7","s8","G3","s9","s10","s11","s12","G4","z1","z2"], "paddingInner": 0, "paddingOuter": 0.694, "align": 0.434}}, "y": {"datum": "r4", "type": "nominal", "scale": {"type": "point", "domain": ["axis", "title", "r1", "r2", "r3", "r4"], "padding": 0.82, "align": 0.36}}, "text": {"field": "wm2", "type": "nominal"}}}
]}
]
}
